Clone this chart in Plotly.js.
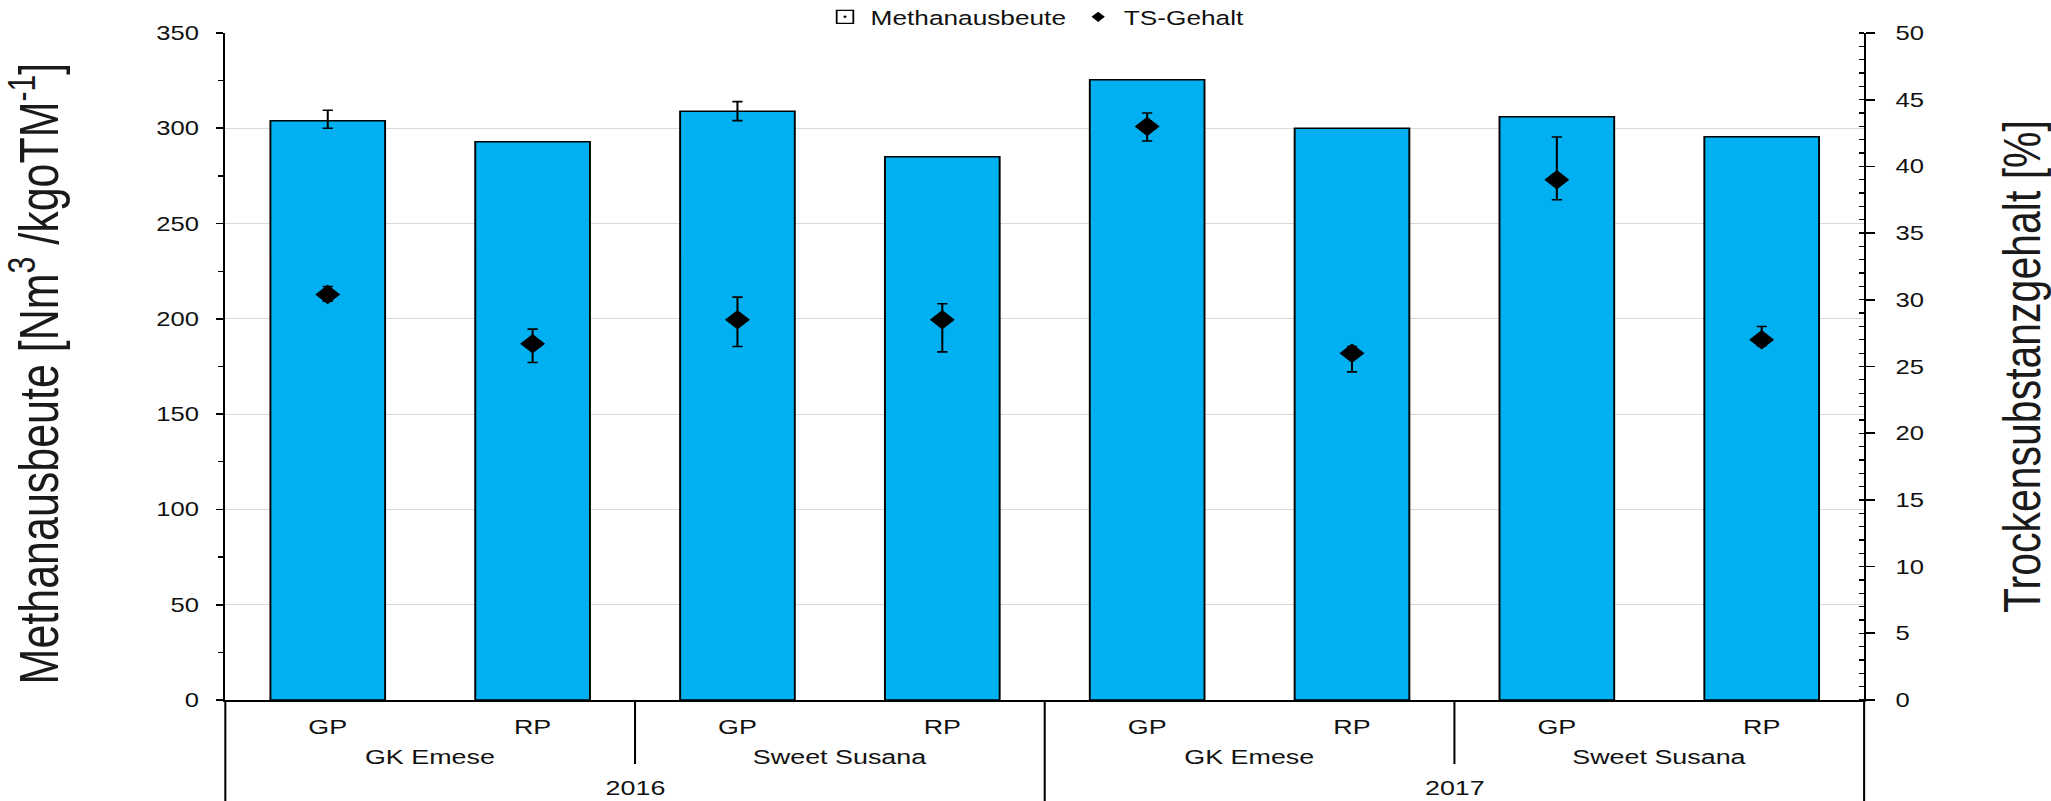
<!DOCTYPE html>
<html>
<head>
<meta charset="utf-8">
<script src="https://cdn.plot.ly/plotly-3.0.1.min.js"></script>
<style>
  html, body { margin: 0; padding: 0; background: #fff; overflow: hidden; }
  #wrap { width: 2051px; height: 801px; overflow: hidden; }
  #chart { width: 1602px; height: 801px; transform: scaleX(1.2803); transform-origin: 0 0; }
</style>
</head>
<body>
<div id="wrap"><div id="chart"></div></div>
<script>
// ---- data ----
const cats = ['GP', 'RP', 'GP', 'RP', 'GP', 'RP', 'GP', 'RP'];
const varieties = ['GK Emese', 'Sweet Susana', 'GK Emese', 'Sweet Susana'];
const years = ['2016', '2017'];
const methan = [304, 293, 309, 285, 325.5, 300, 306, 295.5];
const methanErrPlus = [5.5, null, 5, null, null, null, null, null];
const methanErrMinus = [4, null, 5, null, null, null, null, null];
const ts = [30.4, 26.7, 28.5, 28.5, 43.0, 26.0, 39.0, 27.0];
const tsErrPlus = [0.6, 1.1, 1.7, 1.2, 1.0, 0.5, 3.2, 1.0];
const tsErrMinus = [0.5, 1.4, 2.0, 2.4, 1.1, 1.4, 1.5, 0.45];
const leftTicks = [0, 50, 100, 150, 200, 250, 300, 350];
const rightTicks = [0, 5, 10, 15, 20, 25, 30, 35, 40, 45, 50];

const idx = cats.map((c, i) => i);
const errIdx = idx.filter(i => methanErrPlus[i] !== null);
const FONT = 'Liberation Sans, Arial, sans-serif';
const TXT = '#111';

const traces = [
  {
    type: 'bar', x: idx, y: methan, width: 0.56, yaxis: 'y',
    marker: { color: '#00B0F0', line: { color: '#000', width: 1.5 } },
    showlegend: false, hoverinfo: 'skip'
  },
  {
    // error bars of the bars (only where measured)
    type: 'scatter', mode: 'markers', x: errIdx, y: errIdx.map(i => methan[i]), yaxis: 'y',
    marker: { size: 1, color: 'rgba(0,0,0,0)' },
    error_y: { type: 'data', symmetric: false, array: errIdx.map(i => methanErrPlus[i]),
               arrayminus: errIdx.map(i => methanErrMinus[i]), color: '#000', thickness: 1.6, width: 4 },
    showlegend: false, hoverinfo: 'skip'
  },
  {
    type: 'scatter', mode: 'markers', x: idx, y: ts, yaxis: 'y2',
    marker: { symbol: 'diamond', color: '#000', size: 15 },
    error_y: { type: 'data', symmetric: false, array: tsErrPlus, arrayminus: tsErrMinus,
               color: '#000', thickness: 1.6, width: 4 },
    showlegend: false, hoverinfo: 'skip'
  },
  // legend entries
  { type: 'scatter', mode: 'markers', x: [null], y: [null], name: 'Methanausbeute',
    marker: { symbol: 'square-open-dot', color: '#000', size: 13, line: { width: 1.4 } } },
  { type: 'scatter', mode: 'markers', x: [null], y: [null], name: 'TS-Gehalt', yaxis: 'y2',
    marker: { symbol: 'diamond', color: '#000', size: 8 } }
];

// plot area geometry (paper coordinates)
const plotH = 801 - 33 - 101;
const py = (pix) => (700 - pix) / plotH;
const px = (fullPix) => (fullPix / 1.2803 - 176) / 1280;

const annotations = [];
varieties.forEach((v, g) => {
  annotations.push({ xref: 'x', yref: 'paper', x: 2 * g + 0.5, y: py(756), text: v,
    showarrow: false, xanchor: 'center', yanchor: 'middle', font: { family: FONT, size: 21, color: TXT } });
});
years.forEach((yv, k) => {
  annotations.push({ xref: 'x', yref: 'paper', x: 4 * k + 1.5, y: py(788), text: yv,
    showarrow: false, xanchor: 'center', yanchor: 'middle', font: { family: FONT, size: 21, color: TXT } });
});
annotations.push({ xref: 'paper', yref: 'paper', x: px(35), y: 0.49, textangle: -90,
  text: 'Methanausbeute [Nm<sup>3</sup> /kgoTM<sup>-1</sup>]', showarrow: false,
  xanchor: 'center', yanchor: 'middle', font: { family: FONT, size: 43, color: '#1a1a1a' } });
annotations.push({ xref: 'paper', yref: 'paper', x: px(2021), y: 0.5, textangle: -90,
  text: 'Trockensubstanzgehalt [%]', showarrow: false,
  xanchor: 'center', yanchor: 'middle', font: { family: FONT, size: 41, color: '#1a1a1a' } });

const shapes = [];
// group dividers
[1.5, 5.5].forEach(xv => shapes.push({ type: 'line', xref: 'x', yref: 'paper', x0: xv, x1: xv,
  y0: 0, y1: py(764), line: { color: '#000', width: 1.6 } }));
// year divider
shapes.push({ type: 'line', xref: 'x', yref: 'paper', x0: 3.5, x1: 3.5, y0: 0, y1: py(805),
  line: { color: '#000', width: 1.6 } });
// axis extensions
[0, 1].forEach(xv => shapes.push({ type: 'line', xref: 'paper', yref: 'paper', x0: xv, x1: xv,
  y0: 0, y1: py(805), line: { color: '#000', width: 1.6 } }));

const layout = {
  width: 1602, height: 801,
  margin: { l: 176, r: 146, t: 33, b: 101, pad: 0, autoexpand: false },
  paper_bgcolor: '#fff', plot_bgcolor: '#fff',
  showlegend: true,
  legend: { orientation: 'h', x: 0.3625, xanchor: 'left', y: py(17), yanchor: 'middle',
            font: { family: FONT, size: 20.5, color: TXT }, bgcolor: 'rgba(0,0,0,0)', itemwidth: 30 },
  xaxis: {
    range: [-0.5, 7.5], tickmode: 'array', tickvals: idx, ticktext: cats,
    showline: true, linecolor: '#000', linewidth: 2, ticks: '', showgrid: false, zeroline: false,
    tickfont: { family: FONT, size: 21, color: TXT }, ticklabelstandoff: 7, automargin: false, fixedrange: true
  },
  yaxis: {
    range: [0, 350], tickmode: 'array', tickvals: leftTicks, ticktext: leftTicks.map(String),
    showline: true, linecolor: '#000', linewidth: 1.6, ticks: 'outside', ticklen: 6, tickwidth: 1.6, tickcolor: '#000',
    minor: { dtick: 25, tick0: 0, ticks: 'outside', ticklen: 4, tickwidth: 1.3, tickcolor: '#000', showgrid: false },
    showgrid: true, gridcolor: '#d9d9d9', gridwidth: 1, zeroline: false,
    tickfont: { family: FONT, size: 20, color: TXT }, ticklabelstandoff: 9, automargin: false, fixedrange: true
  },
  yaxis2: {
    range: [0, 50], overlaying: 'y', side: 'right', anchor: 'x',
    tickmode: 'array', tickvals: rightTicks, ticktext: rightTicks.map(String),
    showline: true, linecolor: '#000', linewidth: 1.6, ticks: 'outside', ticklen: 7, tickwidth: 1.6, tickcolor: '#000',
    minor: { dtick: 1, tick0: 0, ticks: 'inside', ticklen: 4, tickwidth: 1.3, tickcolor: '#000', showgrid: false },
    showgrid: false, zeroline: false,
    tickfont: { family: FONT, size: 20, color: TXT }, ticklabelstandoff: 12, automargin: false, fixedrange: true
  },
  yaxis3: {
    range: [0, 350], overlaying: 'y', side: 'left', anchor: 'x', tickmode: 'array', tickvals: leftTicks,
    ticks: 'inside', ticklen: 5, tickwidth: 1.6, tickcolor: '#000', showticklabels: false,
    showline: false, showgrid: false, zeroline: false, automargin: false, fixedrange: true
  },
  yaxis4: {
    range: [0, 50], overlaying: 'y', side: 'right', anchor: 'x', tickmode: 'array', tickvals: rightTicks,
    ticks: 'inside', ticklen: 5, tickwidth: 1.6, tickcolor: '#000', showticklabels: false,
    showline: false, showgrid: false, zeroline: false, automargin: false, fixedrange: true
  },
  annotations: annotations,
  shapes: shapes
};

Plotly.newPlot('chart', traces, layout, { displayModeBar: false, staticPlot: true });
</script>
</body>
</html>
